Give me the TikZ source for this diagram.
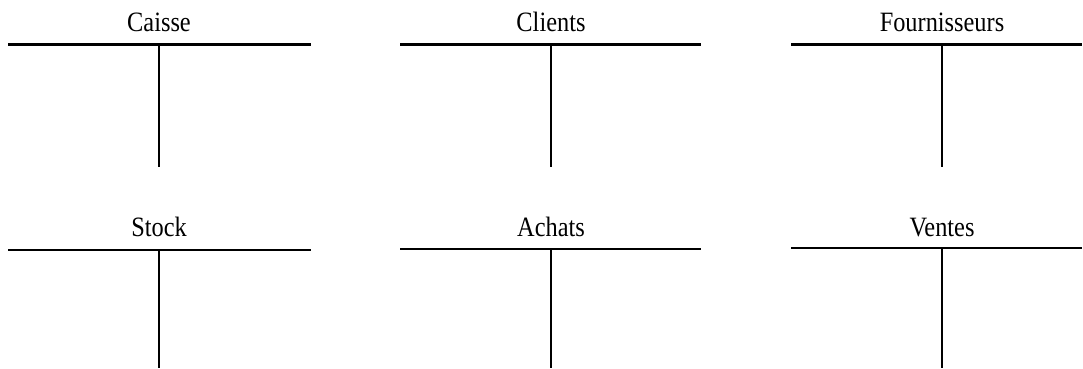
\documentclass[tikz,border=0pt]{standalone}
\usepackage{fontspec}
\setmainfont{Liberation Serif}
\begin{document}
\begin{tikzpicture}[x=1pt,y=-1pt,
  tline/.style={line width=2.3pt,black},
  ttitle/.style={anchor=base,inner sep=0pt,font=\fontsize{28}{30}\selectfont,xscale=0.87}]
\useasboundingbox (0,0) rectangle (1083,369);
% top row
\foreach \nm/\lx/\mx/\rx/\ty/\hy/\by/\txt in {
  caisse/8/159/311/32/44.5/167/Caisse,
  clients/400/551/701/32/44.5/167/Clients,
  fourn/791/942/1082/32/44.5/167/Fournisseurs,
  stock/8/159/311/236/250/368/Stock,
  achats/400/551/701/236/249/368/Achats,
  ventes/791/942/1082/236/248/368/Ventes}{
  \node[ttitle] (\nm) at (\mx,\ty) {\txt};
  \coordinate (\nm-l) at (\lx,\hy);
  \coordinate (\nm-r) at (\rx,\hy);
  \coordinate (\nm-m) at (\mx,\hy);
  \coordinate (\nm-b) at (\mx,\by);
  \draw[tline] (\nm-l) -- (\nm-r);
  \draw[tline] (\nm-m) -- (\nm-b);
}
\end{tikzpicture}
\end{document}
